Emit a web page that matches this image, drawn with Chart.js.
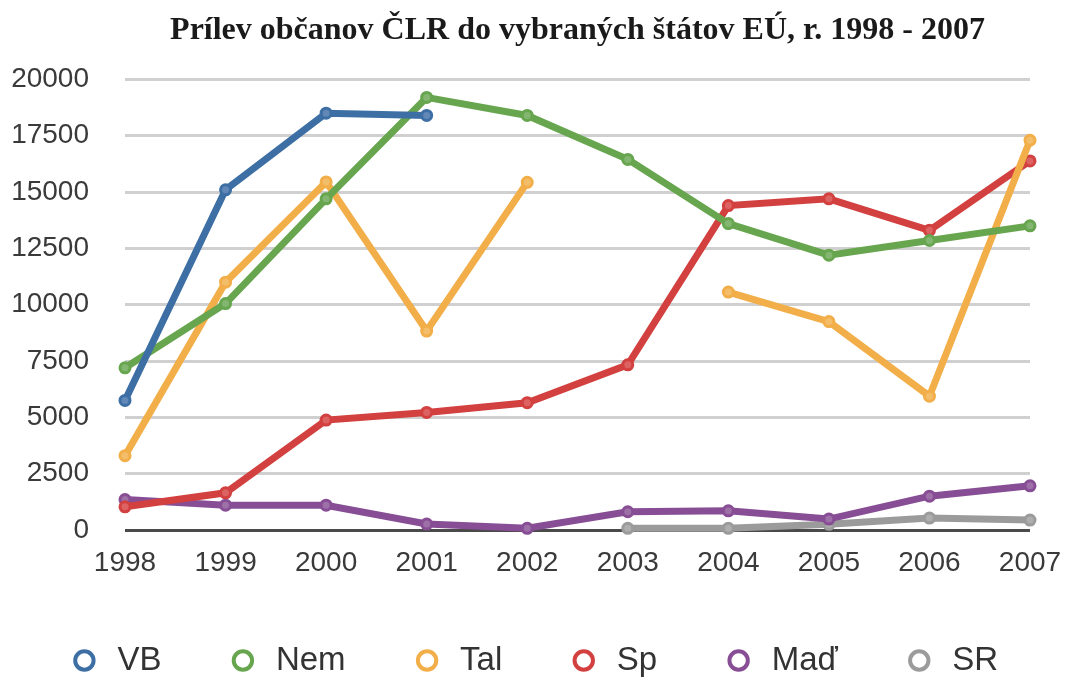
<!DOCTYPE html>
<html>
<head>
<meta charset="utf-8">
<script src="https://cdn.jsdelivr.net/npm/chart.js@4"></script>
<style>
  html, body { margin: 0; padding: 0; background: #ffffff; }
  #wrap { width: 1066px; height: 680px; }
</style>
</head>
<body>
<div id="wrap"><canvas id="c" width="1066" height="680"></canvas></div>
<script>
const titleText = "Prílev občanov ČLR do vybraných štátov EÚ, r. 1998 - 2007";
const years = ["1998", "1999", "2000", "2001", "2002", "2003", "2004", "2005", "2006", "2007"];
const seriesNames = ["VB", "Nem", "Tal", "Sp", "Maď", "SR"];
const vb  = [5750, 15100, 18500, 18400, null, null, null, null, null, null];
const nem = [7200, 10050, 14700, 19200, 18400, 16450, 13600, 12200, 12850, 13500];
const tal = [3300, 11000, 15450, 8830, 15430, null, 10560, 9250, 5940, 17300];
const sp  = [1030, 1650, 4880, 5220, 5650, 7330, 14400, 14700, 13300, 16380];
const mad = [1350, 1100, 1100, 265, 75, 810, 850, 485, 1500, 1960];
const sr  = [null, null, null, null, null, 75, 75, 250, 530, 440];
const yTicks = [0, 2500, 5000, 7500, 10000, 12500, 15000, 17500, 20000];

const colors = ["#3d6fa5", "#67a64f", "#f2ae48", "#d2403f", "#874e95", "#9a9b9a"];
const lights = ["#6188b6", "#83b670", "#f4bd6a", "#dc6362", "#9d70a8", "#adaead"];
const allData = [vb, nem, tal, sp, mad, sr];

const datasets = seriesNames.map((name, i) => ({
  label: name,
  data: allData[i],
  borderColor: colors[i],
  backgroundColor: colors[i],
  borderWidth: 7,
  pointRadius: 5,
  pointBorderWidth: 3,
  pointBackgroundColor: lights[i],
  pointBorderColor: colors[i],
  pointHoverRadius: 5,
  tension: 0,
  spanGaps: false,
  fill: false,
  clip: false
}));

new Chart(document.getElementById("c"), {
  type: "line",
  data: { labels: years, datasets: datasets },
  options: {
    responsive: false,
    animation: false,
    devicePixelRatio: 1,
    layout: { padding: { left: 0, right: 0, top: 0, bottom: -7 } },
    plugins: {
      tooltip: { enabled: false },
      title: {
        display: true,
        text: titleText,
        fullSize: false,
        color: "#1a1a1a",
        font: { family: "'Liberation Serif', 'Times New Roman', serif", size: 32, weight: "bold" },
        padding: { top: 12, bottom: 29 }
      },
      legend: {
        position: "bottom",
        labels: {
          usePointStyle: true,
          pointStyle: "circle",
          boxWidth: 33,
          boxHeight: 13,
          padding: 65,
          color: "#333333",
          font: { family: "'Liberation Sans', Arial, sans-serif", size: 33 },
          generateLabels: (chart) => chart.data.datasets.map((ds, i) => ({
            text: ds.label,
            fillStyle: "#ffffff",
            strokeStyle: ds.borderColor,
            lineWidth: 4,
            pointStyle: "circle",
            hidden: false,
            datasetIndex: i,
            fontColor: "#333333"
          }))
        }
      }
    },
    scales: {
      x: {
        offset: false,
        grid: { display: false, drawTicks: false },
        border: { display: false },
        afterFit: (axis) => { axis.height = 49; axis.paddingRight = 36; },
        ticks: {
          color: "#3a3a3a",
          padding: 16,
          maxRotation: 0,
          autoSkip: false,
          font: { family: "'Liberation Sans', Arial, sans-serif", size: 28 }
        }
      },
      y: {
        min: 0,
        max: 20000,
        afterBuildTicks: (axis) => { axis.ticks = yTicks.map(v => ({ value: v })); },
        afterFit: (axis) => { axis.width = 125; },
        grid: {
          drawTicks: false,
          lineWidth: 3,
          color: (ctx) => ctx.tick && ctx.tick.value === 0 ? "#4a4a4a" : "#d0d0d0"
        },
        border: { display: false },
        ticks: {
          color: "#3a3a3a",
          padding: 36,
          font: { family: "'Liberation Sans', Arial, sans-serif", size: 28 },
          callback: (v) => String(v)
        }
      }
    }
  }
});
</script>
</body>
</html>
